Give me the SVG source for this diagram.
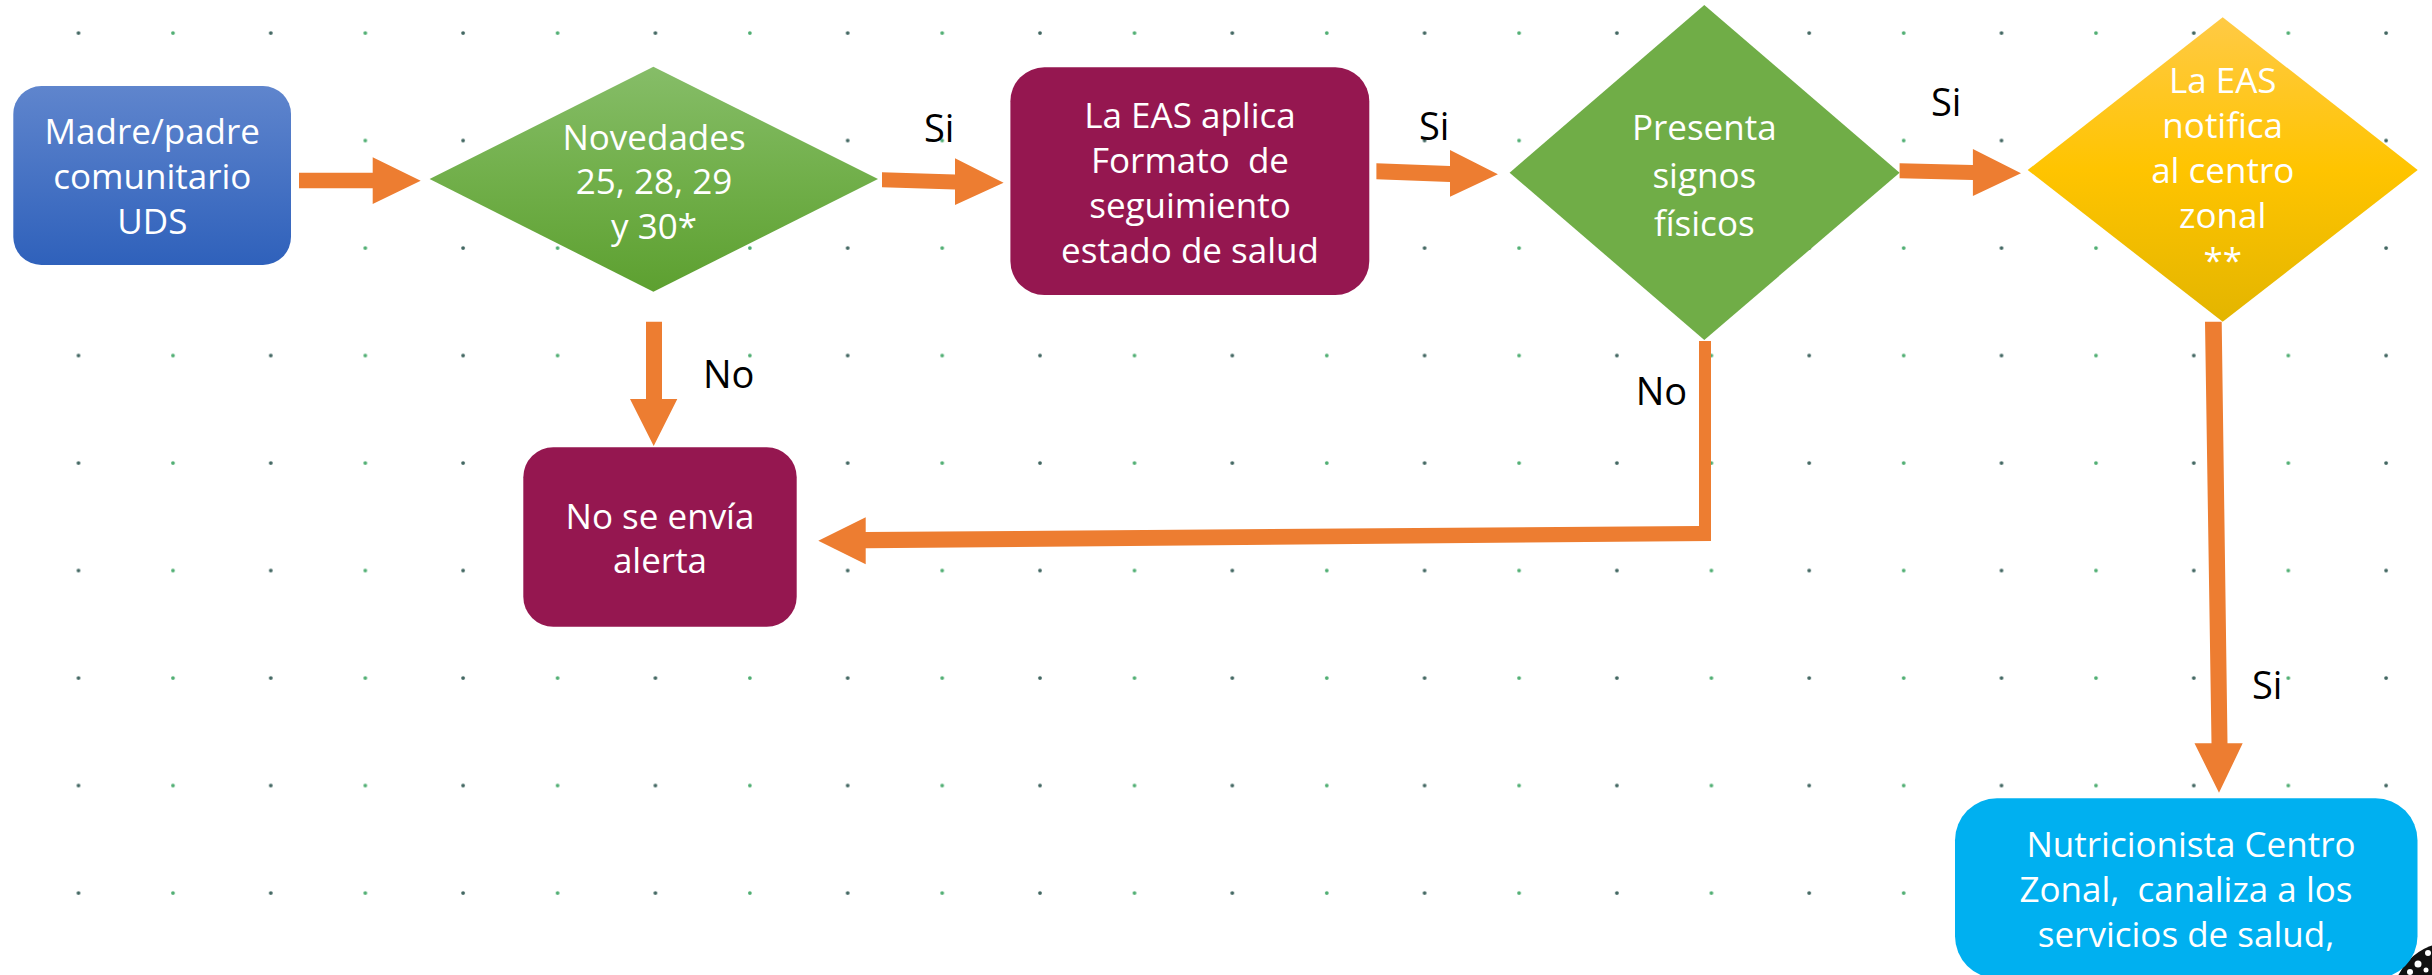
<svg xmlns="http://www.w3.org/2000/svg" width="2432" height="975" viewBox="0 0 2432 975">
<style>
.node-text{font-family:"Open Sans","Noto Sans","Liberation Sans",sans-serif;font-size:35px;fill:#ffffff;text-anchor:middle}
.label{font-family:"Open Sans","Noto Sans","Liberation Sans",sans-serif;font-size:38px;fill:#000000}
.arr{fill:#ed7d31}
.plum{fill:#951750}
</style>
<defs>
<linearGradient id="gBlue" x1="0" y1="0" x2="0" y2="1">
<stop offset="0" stop-color="#5f85cd"/>
<stop offset="1" stop-color="#2f61bb"/>
</linearGradient>
<linearGradient id="gGreen" x1="0" y1="0" x2="0" y2="1">
<stop offset="0" stop-color="#86bd68"/>
<stop offset="0.5" stop-color="#71af4a"/>
<stop offset="1" stop-color="#5da030"/>
</linearGradient>
<linearGradient id="gYellow" x1="0" y1="0" x2="0" y2="1">
<stop offset="0" stop-color="#ffca45"/>
<stop offset="0.5" stop-color="#ffc400"/>
<stop offset="1" stop-color="#e3b500"/>
</linearGradient>
<pattern id="dots" patternUnits="userSpaceOnUse" x="68.5" y="23" width="192.3" height="107.5">
<circle cx="10" cy="10" r="1.9" fill="#416661"/>
<circle cx="104.5" cy="10" r="1.9" fill="#4fae72"/>
</pattern>
</defs>
<rect x="0" y="0" width="2432" height="975" fill="#ffffff"/>
<rect id="grid" x="0" y="0" width="2432" height="975" fill="url(#dots)"/>

<g id="logo">
<circle cx="2452" cy="1002" r="60" fill="#111111"/>
<circle cx="2418" cy="964" r="3.5" fill="#ffffff"/>
<circle cx="2428" cy="953" r="3" fill="#ffffff"/>
<circle cx="2410" cy="972" r="3" fill="#ffffff"/>
<circle cx="2426" cy="970" r="2.5" fill="#ffffff"/>
</g>

<g id="connectors">
<polygon class="arr" points="299,172.7 372.7,172.7 372.7,157.3 420.7,180.7 372.7,204 372.7,188.3 299,188.3"/>
<polygon class="arr" points="882,172.3 955,174.5 955,158.3 1003.6,182.7 955,205 955,189.5 882,187.3"/>
<polygon class="arr" points="1376.4,163.3 1450,166 1450,150 1497.9,174.3 1450,196.7 1450,182 1376.4,179.3"/>
<polygon class="arr" points="1899.6,163.3 1972.9,165 1972.9,149 2021,173.3 1972.9,196 1972.9,180 1899.6,178.3"/>
<polygon class="arr" points="646,321.7 662,321.7 662,399 677.3,399 653.7,446 630,399 646,399"/>
<polygon class="arr" points="1699,341 1711,341 1711,541 865.7,548.3 865.7,564.3 818.3,540.7 865.7,517.3 865.7,532 1699,526"/>
<polygon class="arr" points="2205,321.7 2221.7,321.7 2227.5,743.3 2242.7,743.3 2219,792.7 2194.5,743.3 2211.5,743.3"/>
<text class="label" x="924" y="141.5">Si</text>
<text class="label" x="1419" y="140">Si</text>
<text class="label" x="1931" y="116">Si</text>
<text class="label" x="2252" y="699.3">Si</text>
<text class="label" x="703" y="388.3">No</text>
<text class="label" x="1635.7" y="405">No</text>
</g>

<g id="node-madre">
<rect x="13.3" y="86" width="277.7" height="179" rx="28" ry="28" fill="url(#gBlue)"/>
<text class="node-text" x="152.3" y="144">Madre/padre</text>
<text class="node-text" x="152.3" y="189">comunitario</text>
<text class="node-text" x="152.3" y="234">UDS</text>
</g>

<g id="node-novedades">
<polygon points="429.6,179 653.4,66.7 878,179 653.4,291.7" fill="url(#gGreen)"/>
<text class="node-text" x="654" y="149.5">Novedades</text>
<text class="node-text" x="654" y="194">25, 28, 29</text>
<text class="node-text" x="654" y="238.5">y 30*</text>
</g>

<g id="node-formato">
<rect class="plum" x="1010.4" y="67.3" width="358.9" height="227.7" rx="34" ry="34"/>
<text class="node-text" x="1190" y="128">La EAS aplica</text>
<text class="node-text" x="1190" y="173" xml:space="preserve">Formato  de</text>
<text class="node-text" x="1190" y="218">seguimiento</text>
<text class="node-text" x="1190" y="263">estado de salud</text>
</g>

<g id="node-presenta">
<polygon points="1509.6,172.7 1704.3,5 1899.6,172.7 1704.3,340" fill="#70ad47"/>
<text class="node-text" x="1704.3" y="140">Presenta</text>
<text class="node-text" x="1704.3" y="188">signos</text>
<text class="node-text" x="1704.3" y="236">físicos</text>
</g>

<g id="node-notifica">
<polygon points="2027.7,170 2222.7,17.3 2417.7,170 2222.7,321.7" fill="url(#gYellow)"/>
<text class="node-text" x="2222.7" y="93.3">La EAS</text>
<text class="node-text" x="2222.7" y="138.3">notifica</text>
<text class="node-text" x="2222.7" y="183.3">al centro</text>
<text class="node-text" x="2222.7" y="228.3">zonal</text>
<text class="node-text" x="2222.7" y="273.3">**</text>
</g>

<g id="node-noalerta">
<rect class="plum" x="523.3" y="447.3" width="273.4" height="179.4" rx="30" ry="30"/>
<text class="node-text" x="660" y="529.3">No se envía</text>
<text class="node-text" x="660" y="573.3">alerta</text>
</g>

<g id="node-nutricionista">
<rect x="1955" y="798.3" width="462.5" height="180" rx="42" ry="42" fill="#00b0f0"/>
<text class="node-text" x="2191" y="856.7">Nutricionista Centro</text>
<text class="node-text" x="2186" y="901.7" xml:space="preserve">Zonal,  canaliza a los</text>
<text class="node-text" x="2186" y="946.7">servicios de salud,</text>
</g>
</svg>
